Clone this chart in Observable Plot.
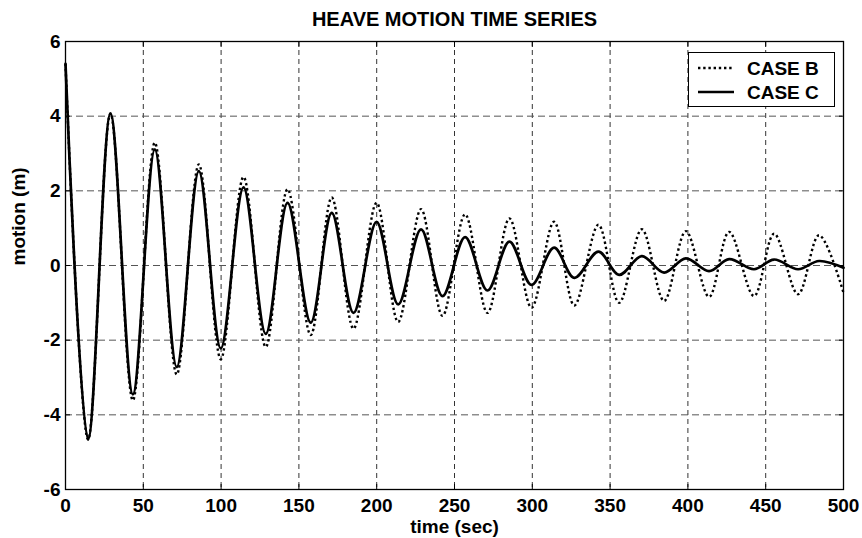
<!DOCTYPE html>
<html><head><meta charset="utf-8">
<script src="https://cdn.jsdelivr.net/npm/d3@7"></script>
<script src="https://cdn.jsdelivr.net/npm/@observablehq/plot@0.6"></script>
<style>
body{margin:0;background:#fff;}
#wrap{position:relative;width:862px;height:538px;font-family:"Liberation Sans",Arial,sans-serif;font-weight:bold;}
#legend{position:absolute;left:688px;top:52px;width:147px;height:55px;border:1.3px solid #000;background:#fff;box-sizing:border-box;}
#legend svg{position:absolute;left:0;top:0;}
</style></head><body><div id="wrap"></div>
<script>
// time (sec) of each extremum
const times = [0, 14.5, 28.9, 43.3, 57.4, 71.5, 85.7, 99.8, 114.4, 128.7, 142.7, 157.6, 171.1, 185.1, 199.9, 213.8, 228.5, 242.3, 256.8, 271.2, 285.3, 299.5, 314, 327, 342.5, 355.8, 370.4, 384.7, 398.7, 413.6, 426.5, 442.5, 455.4, 470.8, 484.3, 500];
// motion (m)
const caseB = [5.4, -4.66, 4.07, -3.61, 3.29, -2.92, 2.71, -2.51, 2.37, -2.18, 2.04, -1.86, 1.82, -1.69, 1.68, -1.51, 1.51, -1.35, 1.37, -1.27, 1.26, -1.13, 1.17, -1.07, 1.09, -1.0, 0.97, -0.95, 0.92, -0.84, 0.9, -0.82, 0.85, -0.77, 0.81, -0.73];
const caseC = [5.4, -4.66, 4.07, -3.45, 3.11, -2.72, 2.53, -2.22, 2.09, -1.83, 1.68, -1.53, 1.41, -1.27, 1.17, -1.04, 0.97, -0.82, 0.76, -0.67, 0.64, -0.52, 0.48, -0.33, 0.37, -0.25, 0.25, -0.19, 0.19, -0.15, 0.17, -0.10, 0.16, -0.10, 0.12, -0.06];
const xTicks = [0, 50, 100, 150, 200, 250, 300, 350, 400, 450, 500];
const yTicks = [-6, -4, -2, 0, 2, 4, 6];
const seriesNames = ["CASE B", "CASE C"];
const titleText = "HEAVE MOTION TIME SERIES";
const xLabel = "time (sec)";
const yLabel = "motion (m)";

const dataB = times.map((t, i) => ({t, v: caseB[i]}));
const dataC = times.map((t, i) => ({t, v: caseC[i]}));

const font = "Liberation Sans, Arial, sans-serif";
const fs = 19;
const chart = Plot.plot({
  width: 862, height: 538,
  marginLeft: 65, marginRight: 19, marginTop: 41, marginBottom: 49,
  x: {domain: [0, 500]},
  y: {domain: [-6, 6]},
  style: {fontFamily: font, fontWeight: "bold", fontSize: fs + "px", color: "#000", background: "#fff", overflow: "visible"},
  marks: [
    Plot.gridX(xTicks.slice(1, -1), {stroke: "#000", strokeOpacity: 0.8, strokeDasharray: "5,4"}),
    Plot.gridY(yTicks.slice(1, -1), {stroke: "#555", strokeOpacity: 1, strokeDasharray: "7,4"}),
    Plot.line(dataB, {x: "t", y: "v", curve: "catmull-rom", stroke: "#000", strokeWidth: 2.4, strokeDasharray: "2.4,2.8", strokeLinecap: "butt"}),
    Plot.line(dataC, {x: "t", y: "v", curve: "catmull-rom", stroke: "#000", strokeWidth: 2.7}),
    Plot.frame({stroke: "#000", strokeWidth: 1.3}),
    Plot.axisX(xTicks, {tickSize: -5, tickPadding: 14, label: null, fontSize: fs, tickFormat: d => String(d)}),
    Plot.axisX(xTicks, {anchor: "top", tickSize: -5, tickFormat: () => "", label: null}),
    Plot.axisY(yTicks, {tickSize: -5, tickPadding: 10, label: null, fontSize: fs, tickFormat: d => String(d)}),
    Plot.axisY(yTicks, {anchor: "right", tickSize: -5, tickFormat: () => "", label: null}),
    Plot.text([xLabel], {text: d => d, frameAnchor: "bottom", lineAnchor: "middle", dy: 37, fontSize: fs, fontWeight: "bold"}),
    Plot.text([yLabel], {text: d => d, frameAnchor: "left", lineAnchor: "middle", rotate: -90, dx: -47, fontSize: fs, fontWeight: "bold"}),
    Plot.text([titleText], {text: d => d, frameAnchor: "top", lineAnchor: "middle", dy: -22, fontSize: 20, fontWeight: "bold"})
  ]
});
const wrap = document.getElementById("wrap");
wrap.appendChild(chart);

const leg = document.createElement("div");
leg.id = "legend";
const dashes = ["2.4,2.8", null];
let s = '<svg width="147" height="55">';
seriesNames.forEach((n, i) => {
  const y = 15 + i * 24;
  s += `<line x1="9" x2="45" y1="${y}" y2="${y}" stroke="#000" stroke-width="${i ? 2.7 : 2.4}" ${dashes[i] ? `stroke-dasharray="${dashes[i]}"` : ""}/>`;
  s += `<text x="58" y="${y}" dy="0.36em" font-family="${font}" font-weight="bold" font-size="${fs}">${n}</text>`;
});
s += '</svg>';
leg.innerHTML = s;
wrap.appendChild(leg);
</script></body></html>
